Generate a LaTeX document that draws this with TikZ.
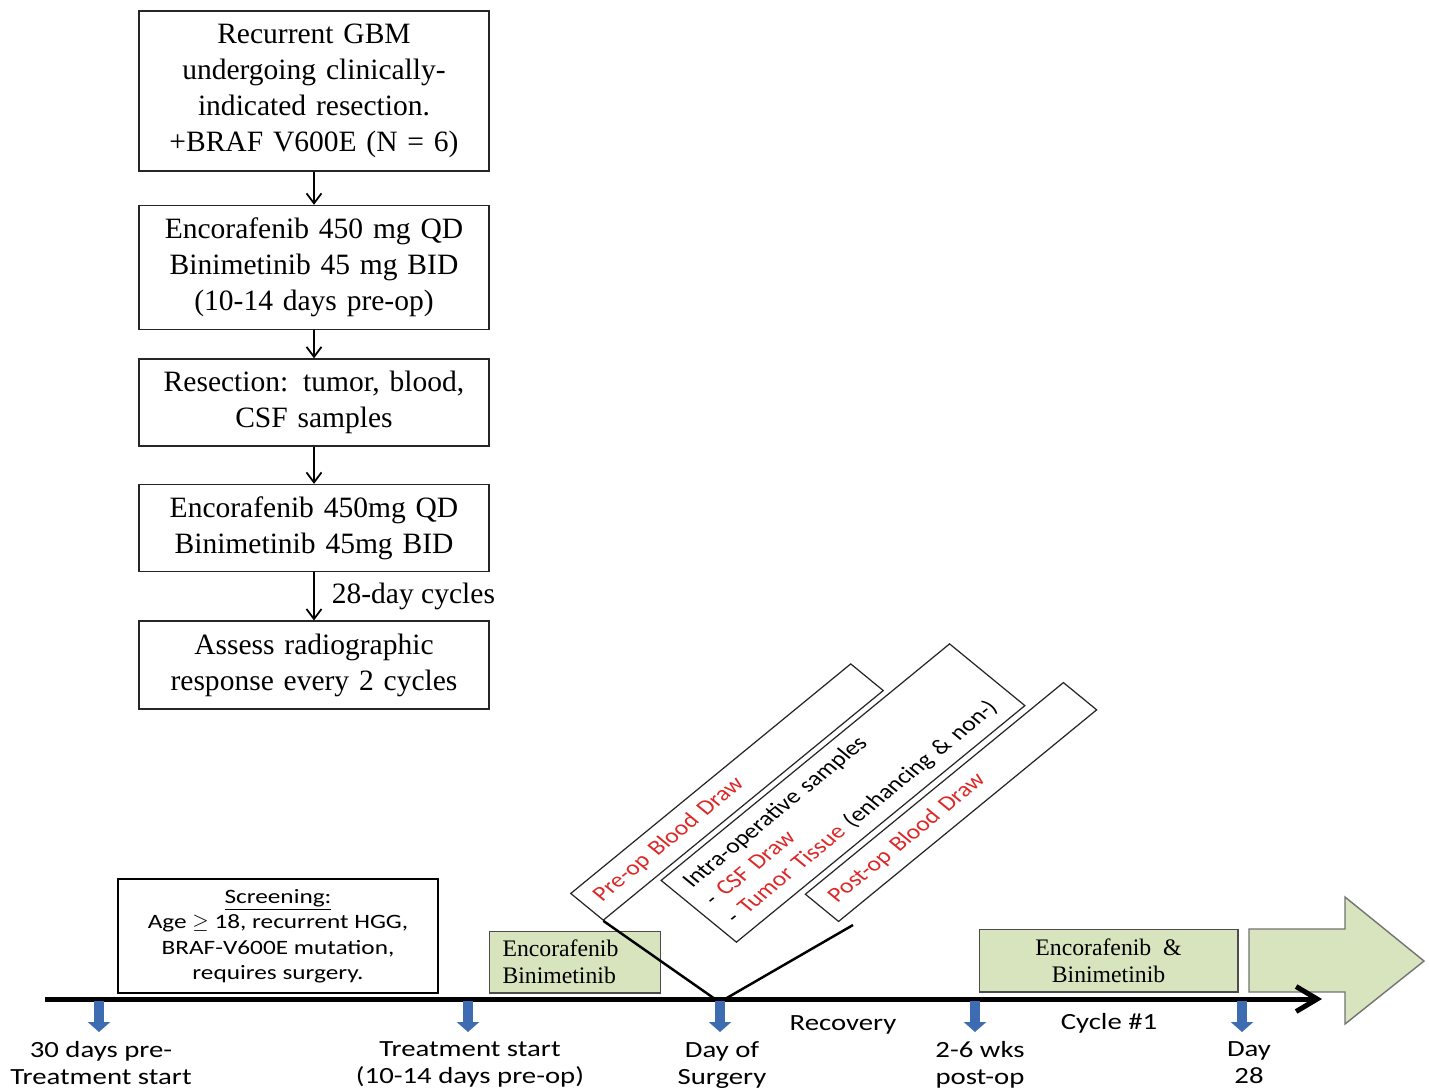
\documentclass[tikz,border=0pt]{standalone}
\usepackage{fontspec}
\setmainfont{Liberation Serif}
\newfontfamily\calib{Carlito}[FakeStretch=1.24]
\newfontfamily\calibrot{Carlito}
\usetikzlibrary{positioning,arrows.meta}

\definecolor{drugfill}{RGB}{215,228,189}
\definecolor{tickblue}{RGB}{62,108,178}
\definecolor{sampred}{RGB}{222,40,40}

\begin{document}
\begin{tikzpicture}[x=0.02cm, y=-0.02cm,
    flow/.style={draw=black!85, line width=0.9pt, minimum width=7cm, text width=6.6cm,
      align=center, inner sep=0pt, font=\fontsize{16.8}{20.4}\selectfont},
    flowarrow/.style={line width=1pt, -{Straight Barb[length=0.2cm,width=0.3cm]}},
    drug/.style={draw=black!70, line width=0.6pt, fill=drugfill, inner ysep=0pt,
      inner xsep=0.26cm, font=\fontsize{13.5}{15.5}\selectfont},
    tagbox/.style={draw=black!85, line width=0.7pt, rotate=45, transform shape, align=left,
      inner xsep=0.3cm, inner ysep=0pt, font=\calibrot\fontsize{14.6}{17.5}\selectfont},
    when/.style={anchor=north, align=center, inner sep=0pt, font=\calib\fontsize{13.2}{15.5}\selectfont},
    phase/.style={anchor=base, inner sep=0pt, font=\calib\fontsize{13.2}{15.5}\selectfont},
    tick/.style={line width=0.2cm, draw=tickblue, -{Triangle[length=0.2cm,width=0.44cm]}},
    timeline/.style={line width=0.1cm, -{Straight Barb[length=0.42cm,width=0.5cm]}},
    vline/.style={line width=1.4pt}]
    \useasboundingbox (0,0) rectangle (1429,1090);

    \node[flow, minimum height=3.2cm] (gbm) at (314,91) {Recurrent GBM\\undergoing clinically-\\indicated resection.\\+BRAF V600E (N = 6)};
    \node[flow, minimum height=2.48cm, below=0.66cm of gbm] (neo) {Encorafenib 450 mg QD\\Binimetinib 45 mg BID\\(10-14 days pre-op)};
    \node[flow, minimum height=1.74cm, below=0.56cm of neo] (resect) {Resection: tumor, blood,\\CSF samples};
    \node[flow, minimum height=1.74cm, below=0.74cm of resect] (adjuv) {Encorafenib 450mg QD\\Binimetinib 45mg BID};
    \node[flow, minimum height=1.76cm, below=0.96cm of adjuv] (assess) {Assess radiographic\\response every 2 cycles};
    \draw[flowarrow] (gbm) -- (neo);
    \draw[flowarrow] (neo) -- (resect);
    \draw[flowarrow] (resect) -- (adjuv);
    \draw[flowarrow] (adjuv) -- node[right=0.34cm, inner sep=0pt, font=\fontsize{16.8}{20.4}\selectfont] {28-day cycles} (assess);

    \node[draw, line width=0.8pt, minimum width=6.4cm, minimum height=2.28cm, align=center, inner sep=0pt,
      font=\calib\fontsize{11.6}{14.5}\selectfont] (screen) at (278,936)
      {\underline{Screening:}\\Age $\geq$ 18, recurrent HGG,\\BRAF-V600E mutation,\\requires surgery.};
    \node[drug, minimum width=3.42cm, minimum height=1.24cm, text width=2.9cm, align=left] (drugpre) at (575,962) {Encorafenib\\Binimetinib};
    \node[drug, minimum width=5.18cm, minimum height=1.26cm, align=center] (drugpost) at (1108.5,960.5) {Encorafenib\ \ \&\\Binimetinib};
    \draw[draw=black!55, line width=0.8pt, fill=drugfill] (1249,929) -- (1345,929) -- (1345,897) -- (1424,961)
      -- (1345,1024) -- (1345,992) -- (1249,992) -- cycle;

    \begin{scope}[shift={(727,792)}, yscale=0.82]
      \node[tagbox, minimum width=7.92cm, minimum height=0.92cm, text width=7.32cm] (preop) {\color{sampred}Pre-op Blood Draw};
    \end{scope}
    \begin{scope}[shift={(843,793)}, yscale=0.82]
      \node[tagbox, minimum width=8.16cm, minimum height=2.13cm, text width=7.56cm] (intraop)
        {Intra-operative samples\\- {\color{sampred}CSF Draw}\\- {\color{sampred}Tumor Tissue} (enhancing \& non-)};
    \end{scope}
    \begin{scope}[shift={(951,802)}, yscale=0.82]
      \node[tagbox, minimum width=7.3cm, minimum height=0.94cm, text width=6.7cm] (postop) {\color{sampred}Post-op Blood Draw};
    \end{scope}

    \coordinate (t0) at (45,999);
    \coordinate (t1) at (1322,999);
    \draw[timeline] (t0) -- (t1);
    \foreach \x/\n in {99/a,468/b,720/c,975/d,1242/e}{
      \coordinate (tk\n) at (\x,1001);
      \coordinate (tp\n) at (\x,1032);
      \draw[tick] (tk\n) -- (tp\n);
    }
    \coordinate (vl) at (715,999);
    \coordinate (vr) at (725,999);
    \coordinate (vtop) at (853,925);
    \draw[vline] (preop.south west) -- (vl);
    \draw[vline] (vr) -- (vtop);

    \node[when] (lbla) at (101,1041) {30 days pre-\\Treatment start};
    \node[when] (lblb) at (470,1041) {Treatment start\\(10-14 days pre-op)};
    \node[when] (lblc) at (722,1041) {Day of\\Surgery};
    \node[when] (lbld) at (980,1041) {2-6 wks\\post-op};
    \node[when] (lble) at (1249,1041) {Day\\28};
    \node[phase] (recov) at (843,1030) {Recovery};
    \node[phase] (cycle) at (1109,1029) {Cycle \#1};
\end{tikzpicture}
\end{document}
